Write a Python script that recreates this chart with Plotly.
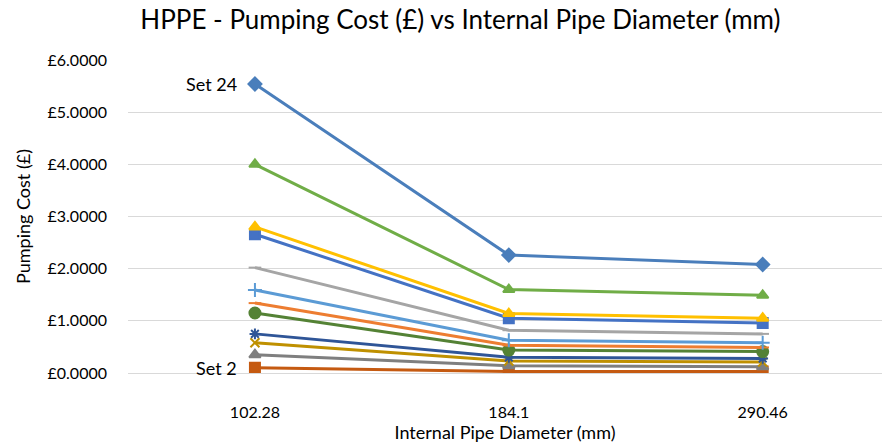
import plotly.graph_objects as go

# Internal pipe diameters (mm), shown as categories
diameters = ["102.28", "184.1", "290.46"]

# Pumping cost (£) for each set at each diameter
set_names = ["Set 2", "Set 4", "Set 6", "Set 8", "Set 10", "Set 12",
             "Set 14", "Set 16", "Set 18", "Set 20", "Set 22", "Set 24"]
set_2 = [0.10, 0.03, 0.03]
set_4 = [0.35, 0.14, 0.12]
set_6 = [0.58, 0.23, 0.21]
set_8 = [0.75, 0.30, 0.28]
set_10 = [1.15, 0.44, 0.41]
set_12 = [1.34, 0.53, 0.49]
set_14 = [1.59, 0.63, 0.58]
set_16 = [2.02, 0.82, 0.75]
set_18 = [2.66, 1.05, 0.96]
set_20 = [2.80, 1.14, 1.05]
set_22 = [4.00, 1.60, 1.49]
set_24 = [5.54, 2.26, 2.08]
values = [set_2, set_4, set_6, set_8, set_10, set_12,
          set_14, set_16, set_18, set_20, set_22, set_24]

colors = ["#C55A11", "#7F7F7F", "#BF9000", "#2F5597", "#548235", "#ED7D31",
          "#5B9BD5", "#A5A5A5", "#4472C4", "#FFC000", "#70AD47", "#4A7EBB"]
symbols = ["square", "triangle-up", "x-thin-open", "asterisk-open", "circle",
           "line-ew-open", "cross-thin-open", "line-ew-open", "square",
           "triangle-up", "triangle-up", "diamond"]
sizes = [10, 10, 9, 9, 11, 9, 10, 9, 10, 10, 10, 10]

FONT = "Lato, Open Sans, sans-serif"

fig = go.Figure()
for name, ys, c, s, sz in zip(set_names, values, colors, symbols, sizes):
    fig.add_trace(go.Scatter(
        x=diameters, y=ys, name=name, mode="lines+markers",
        line=dict(color=c, width=3),
        marker=dict(color=c, symbol=s, size=sz,
                    line=dict(color=c, width=2)),
    ))

fig.add_annotation(x=0, y=set_24[0], xref="x", yref="y", text="Set 24",
                   showarrow=False, xanchor="right", xshift=-16,
                   font=dict(size=18, color="#000000", family=FONT))
fig.add_annotation(x=0, y=set_2[0], xref="x", yref="y", text="Set 2",
                   showarrow=False, xanchor="right", xshift=-16,
                   font=dict(size=18, color="#000000", family=FONT))

fig.update_layout(
    width=882, height=445,
    margin=dict(l=128, r=0, t=60, b=72),
    paper_bgcolor="white", plot_bgcolor="white",
    showlegend=False,
    font=dict(family=FONT, color="#404040"),
    title=dict(text="HPPE - Pumping Cost (£) vs Internal Pipe Diameter (mm)",
               x=0.522, xanchor="center", y=0.955, yanchor="middle",
               font=dict(size=26, color="#000000", family=FONT)),
    xaxis=dict(type="category", range=[-0.5, 2.47],
               showgrid=False, zeroline=False, showline=False, ticks="",
               ticklabelstandoff=28,
               tickfont=dict(size=16, color="#000000"),
               title=dict(text="Internal Pipe Diameter (mm)", standoff=4,
                          font=dict(size=18, color="#000000"))),
    yaxis=dict(range=[0, 6], dtick=1,
               showgrid=True, gridcolor="#D9D9D9", gridwidth=1.3,
               zeroline=True, zerolinecolor="#D9D9D9", zerolinewidth=1.3,
               showline=False, ticks="", ticklabelstandoff=20,
               tickfont=dict(size=16, color="#000000"),
               title=dict(text="Pumping Cost (£)", standoff=12,
                          font=dict(size=18, color="#000000"))),
)
fig.update_yaxes(tickprefix="£", tickformat=".4f")

fig.write_html("out.html")
